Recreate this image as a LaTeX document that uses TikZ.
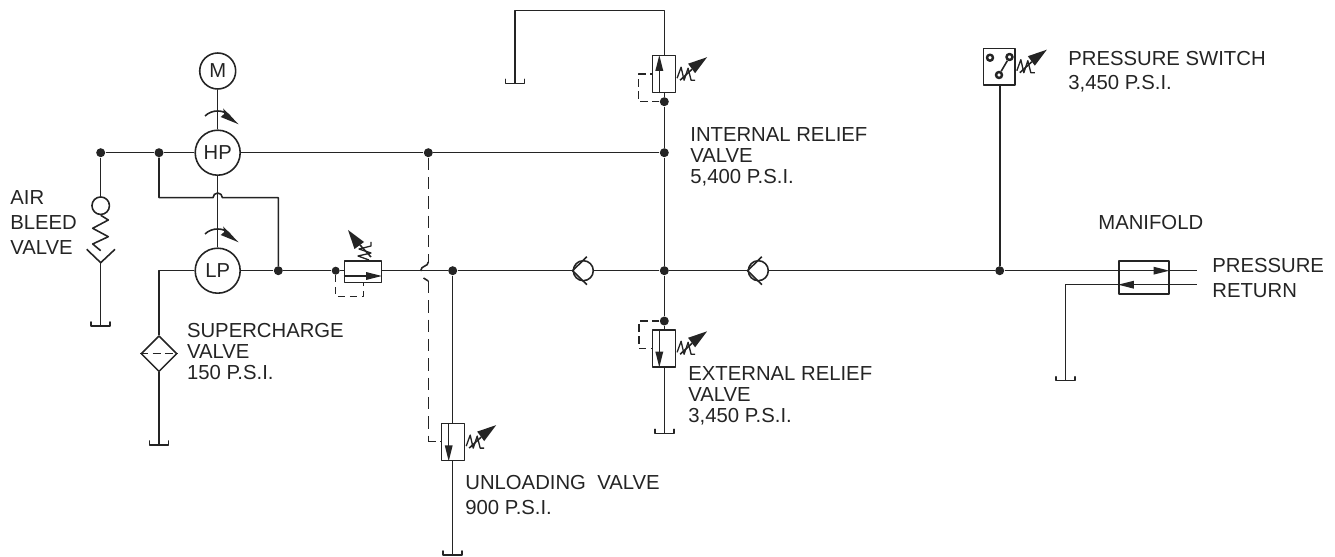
\documentclass[tikz,border=0pt]{standalone}
\usepackage{fontspec}
\setmainfont{Liberation Sans}
\usepackage{tikz}
\usetikzlibrary{arrows.meta,shapes.geometric}
\definecolor{ink}{gray}{.14}
\tikzset{
  pipe/.style={draw=ink,line width=.9pt},
  pilot/.style={draw=ink,line width=.9pt,dash pattern=on 4.2pt off 2.6pt},
  pilotlong/.style={draw=ink,line width=.9pt,dash pattern=on 7pt off 4pt},
  dot/.style={circle,fill=ink,inner sep=0pt,minimum size=.18cm},
  pumpbig/.style={circle,draw=ink,line width=.9pt,inner sep=0pt,minimum size=.9cm,text=ink,font=\fontsize{11.5}{12}\selectfont},
  motor/.style={pumpbig,minimum size=.72cm},
  ball/.style={circle,draw=ink,line width=.9pt,inner sep=0pt,minimum size=.35cm},
  checkball/.style={ball,minimum size=.4cm},
  contact/.style={circle,draw=ink,fill=white,line width=1.4pt,inner sep=0pt,minimum size=.12cm},
  vvalve/.style={rectangle,draw=ink,line width=.9pt,inner sep=0pt,minimum width=.46cm,minimum height=.74cm},
  hvalve/.style={rectangle,draw=ink,line width=.9pt,inner sep=0pt,minimum width=.74cm,minimum height=.43cm},
  lbl/.style={anchor=north west,inner sep=0pt,align=left,text=ink,font=\fontsize{11.55}{11.9}\selectfont},
  wedgy/.style={-{Triangle[length=.32cm,width=.15cm]}},
  pics/tank/.style={code={\draw[pipe,line cap=round](-9.5,-4)--(-9.5,0)--(9.5,0)--(9.5,-4);}},
  pics/checkv/.style={code={\draw[pipe](14.4,-14)--(0,0)--(14.4,14);}},
  pics/spring/.style={code={
    \draw[pipe,line width=.75pt](1,4)--(5,-7)--(8,6)--(12,-6)--(15,6)--(19,6);
    \fill[ink](31,-17)--(12,-10.5)--(19,-1)--cycle;
    \draw[pipe](4,6)--(16,-5);}},
  pics/turn/.style={code={
    \draw[pipe](-12.7,0)..controls(-6,-6.7)and(6,-6.7)..(12.3,0);
    \fill[ink](21,8.3)--(5.5,-7.5)--(6.5,-2)--(3,1)--cycle;}}
}
\begin{document}
\begin{tikzpicture}[x=.02cm,y=-.02cm,join=round]
  \useasboundingbox (0,0) rectangle (1335,557);
  % pumps and motor
  \node[motor] (m) at (217.7,71) {M};
  \node[pumpbig] (hp) at (217.7,152.7) {HP};
  \node[pumpbig] (lp) at (217.7,270.7) {LP};
  \pic at (217.7,116) {turn};
  \pic at (217.7,234) {turn};
  \draw[pipe] (m) -- (hp);
  \draw[pipe] (hp) -- (lp);
  % junctions
  \node[dot] (bleedtop) at (100.7,152.7) {};
  \node[dot] (hpleft) at (159,152.7) {};
  \node[dot] (pilottop) at (428.3,152.7) {};
  \node[dot] (relieftee) at (664.3,152.7) {};
  \node[dot] (lpright) at (278.3,270.7) {};
  \node[dot,minimum size=.16cm] (inlet) at (335.7,270.7) {};
  \node[dot] (unloadtee) at (452.7,270.7) {};
  \node[dot] (centre) at (664.3,270.7) {};
  \node[dot] (switchtee) at (999.7,270.7) {};
  \node[dot] (intdot) at (664.3,101.7) {};
  \node[dot] (extdot) at (664.3,321) {};
  \draw[pipe] (bleedtop) -- (hpleft) -- (hp);
  \draw[pipe] (hp) -- (pilottop) -- (relieftee);
  % air bleed valve
  \node[ball] (bleedball) at (100.7,205.7) {};
  \coordinate (bleedy) at (100.7,262.7);
  \coordinate (bleedtank) at (100.7,326);
  \draw[pipe] (bleedtop) -- (bleedball);
  \draw[pipe] (bleedball.south) -- (108.3,220) -- (92.7,228.3) -- (108.3,236.7) -- (92.7,244) -- (100.7,250.7);
  \draw[pipe] (86.7,249.3) -- (bleedy) -- (115,249.3);
  \draw[pipe] (bleedy) -- (bleedtank);
  \pic at (bleedtank) {tank};
  % crossover between HP and LP
  \coordinate (hopa) at (213,197.7);
  \coordinate (crossleft) at (159,197.7);
  \coordinate (crossright) at (278.3,197.7);
  \draw[pipe] (hpleft) -- (crossleft) -- (hopa) arc[start angle=180,end angle=360,radius=4.7] -- (crossright) -- (lpright);
  % supercharge valve
  \coordinate (lpcorner) at (159,270.7);
  \node[diamond,draw=ink,line width=.9pt,inner sep=0pt,minimum size=.72cm] (super) at (159,353.7) {};
  \coordinate (supertank) at (159,445);
  \draw[pipe] (lp) -- (lpcorner) -- (super);
  \draw[pipe] (super) -- (supertank);
  \draw[pipe,line width=.7pt,dash pattern=on 4.7pt off 2.3pt] (super.west) -- (super.east);
  \pic at (supertank) {tank};
  % main line
  \node[hvalve] (inline) at (362.8,271.8) {};
  \draw[pipe] (lp) -- (lpright) -- (inlet) -- (inline.west |- inlet);
  \draw[pipe,wedgy] ([yshift=-.084cm]inline.west) -- ([yshift=-.084cm]inline.east);
  \pic[rotate=90] at (365,261) {spring};
  \coordinate (inlinepa) at (335.7,296.7);
  \coordinate (inlinepb) at (363.3,296.7);
  \coordinate (inlinepc) at (363.3,282.7);
  \draw[pilot] (inlet) -- (inlinepa) -- (inlinepb) -- (inlinepc);
  % check valves
  \node[checkball] (checka) at (583.3,270.7) {};
  \node[checkball] (checkb) at (758.3,270.7) {};
  \pic at (checka.west) {checkv};
  \pic at (checkb.west) {checkv};
  \draw[pipe] (inline.east |- inlet) -- (unloadtee) -- (checka);
  \draw[pipe] (checka) -- (centre) -- (checkb);
  \draw[pipe] (checkb) -- (switchtee);
  % unloading valve
  \node[vvalve] (unload) at (452.9,442.1) {};
  \coordinate (unloadtank) at (452.7,555);
  \draw[pipe] (unloadtee) -- (unload.north -| unloadtee);
  \draw[pipe] (unload.south -| unloadtee) -- (unloadtank);
  \draw[pipe,wedgy] ([xshift=-.084cm]unload.north) -- ([xshift=-.084cm]unload.south);
  \pic at (unloadtank) {tank};
  \pic at (unload.east) {spring};
  \coordinate (hoptop) at (428.3,262);
  \coordinate (hopmid) at (420.6,271);
  \coordinate (hoplow) at (428.3,281);
  \coordinate (pilotlow) at (428.3,441.7);
  \draw[pilotlong] (pilottop) -- (hoptop);
  \draw[pipe] (hoptop) .. controls (428.3,267) and (421,265) .. (hopmid);
  \draw[pipe] (423.5,278) -- (hoplow);
  \draw[pilotlong] (hoplow) -- (pilotlow);
  \draw[pilot] (pilotlow) -- (unload.west |- pilotlow);
  % internal relief valve
  \node[vvalve] (intvalve) at (663.8,74.2) {};
  \coordinate (inttop) at (664.3,10.3);
  \coordinate (intleft) at (515,10.3);
  \coordinate (inttank) at (515,83.3);
  \draw[pipe] (centre) -- (relieftee) -- (intdot) -- (intvalve.south -| intdot);
  \draw[pipe] (intvalve.north -| intdot) -- (inttop) -- (intleft) -- (inttank);
  \draw[pipe,wedgy] ([xshift=-.09cm]intvalve.south) -- ([xshift=-.09cm]intvalve.north);
  \pic at (inttank) {tank};
  \pic at (intvalve.east) {spring};
  \coordinate (intpa) at (638.7,101.7);
  \coordinate (intpb) at (638.7,74.2);
  \draw[pilot] (intdot) -- (intpa) -- (intpb) -- (intvalve.west);
  % external relief valve
  \node[vvalve] (extvalve) at (663.8,348.3) {};
  \coordinate (exttank) at (664.3,433.3);
  \draw[pipe] (centre) -- (extdot) -- (extvalve.north -| extdot);
  \draw[pipe] (extvalve.south -| extdot) -- (exttank);
  \draw[pipe,wedgy] ([xshift=-.09cm]extvalve.north) -- ([xshift=-.09cm]extvalve.south);
  \pic at (exttank) {tank};
  \pic at (extvalve.east) {spring};
  \coordinate (extpa) at (639,321);
  \coordinate (extpb) at (639,348.3);
  \draw[pilot] (extdot) -- (extpa) -- (extpb) -- (extvalve.west);
  % pressure switch
  \node[rectangle,draw=ink,line width=.9pt,inner sep=0pt,minimum width=.63cm,minimum height=.73cm] (switch) at (999.3,66.7) {};
  \draw[pipe] (switchtee) -- (switch.south -| switchtee);
  \node[contact] (cona) at (990,57.7) {};
  \node[contact] (conb) at (1009.5,57) {};
  \node[contact] (conc) at (999,75) {};
  \draw[pipe] (conc) -- (conb);
  \pic at (switch.east) {spring};
  % manifold
  \node[rectangle,draw=ink,line width=.9pt,inner sep=0pt,minimum width=1cm,minimum height=.66cm] (manifold) at (1143.7,277.7) {};
  \coordinate (presend) at (1196.7,270.7);
  \coordinate (retend) at (1196.7,284.7);
  \coordinate (retcorner) at (1065.3,284.7);
  \coordinate (rettank) at (1065.3,380.7);
  \draw[pipe,wedgy] (switchtee) -- (manifold.east |- switchtee);
  \draw[pipe] (manifold.east |- switchtee) -- (presend);
  \draw[pipe,wedgy] (retend) -- (manifold.west |- retend);
  \draw[pipe] (manifold.west |- retend) -- (retcorner) -- (rettank);
  \pic at (rettank) {tank};
  % labels
  \node[lbl,font=\fontsize{11.55}{14.2}\selectfont] (lblair) at (10,190) {AIR\\BLEED\\VALVE};
  \node[lbl] (lblsuper) at (186.7,323) {SUPERCHARGE\\VALVE\\150 P.S.I.};
  \node[lbl] (lblint) at (690,127) {INTERNAL RELIEF\\VALVE\\5,400 P.S.I.};
  \node[lbl] (lblext) at (688,366) {EXTERNAL RELIEF\\VALVE\\3,450 P.S.I.};
  \node[lbl,font=\fontsize{11.55}{14.5}\selectfont] (lblunload) at (465,475) {UNLOADING\ \ VALVE\\900 P.S.I.};
  \node[lbl,font=\fontsize{11.55}{13.7}\selectfont] (lblswitch) at (1068,51) {PRESSURE SWITCH\\3,450 P.S.I.};
  \node[lbl] (lblman) at (1098,215) {MANIFOLD};
  \node[lbl,font=\fontsize{11.55}{14}\selectfont] (lblport) at (1212,258) {PRESSURE\\RETURN};
\end{tikzpicture}
\end{document}
